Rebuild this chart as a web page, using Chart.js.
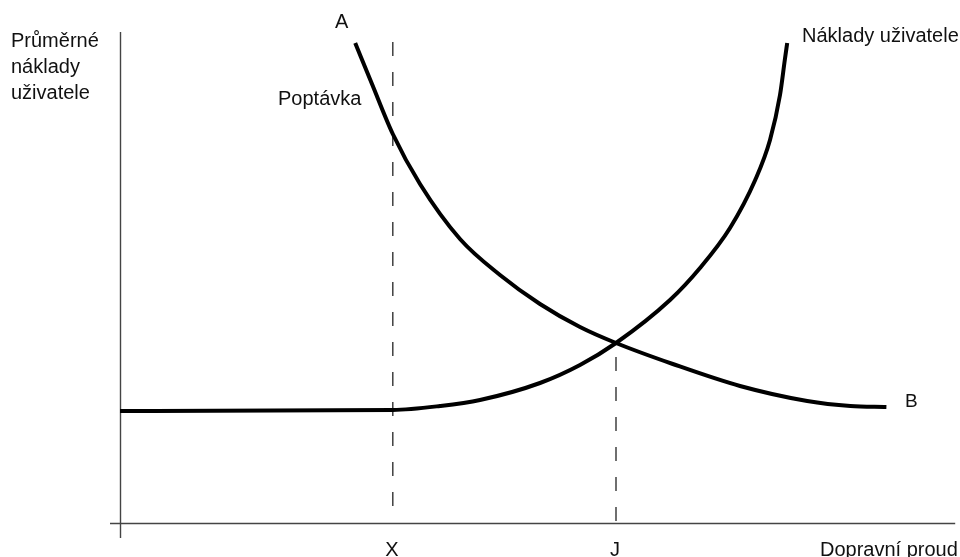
<!DOCTYPE html>
<html>
<head>
<meta charset="utf-8">
<script src="https://cdn.jsdelivr.net/npm/chart.js@4.4.0/dist/chart.umd.min.js"></script>
<style>
  html, body { margin: 0; padding: 0; background: #fff; }
  canvas { display: block; }
</style>
</head>
<body>
<canvas id="c" width="960" height="557"></canvas>
<script>
// Data (units: flow on x, average user cost on y)
const demandX = [29.4, 31.5, 34.1, 37.5, 42.5, 47.5, 52.5, 57.5, 62, 69.1, 77.5, 85.9, 91.3, 95.8];
const demandY = [96, 87.8, 77.8, 67.8, 56.8, 49.6, 43.8, 39.2, 36, 31.8, 27.4, 24.4, 23.4, 23.2];
const costX = [0, 34.1, 40, 45, 52.5, 57.5, 62, 68.75, 72.5, 76.25, 79.4, 81.25, 82.5, 83.1, 83.4];
const costY = [22.4, 22.6, 23.4, 24.6, 28, 31.6, 36, 44.6, 51, 59, 68.6, 76.6, 85.6, 92.6, 96];
const tickLabels = ['X', 'J'];
const tickValues = [34.1, 62];
const dashTops = [96.2, 33.2];
const dashBottoms = [2.8, 0];
const yAxisTitle = ['Průměrné', 'náklady', 'uživatele'];
const xAxisTitle = 'Dopravní proud';
const demandName = 'Poptávka';
const costName = 'Náklady uživatele';
const demandStart = 'A';
const demandEnd = 'B';

const pts = (xs, ys) => xs.map((x, i) => ({ x: x, y: ys[i] }));

const datasets = [
  {
    label: demandName, data: pts(demandX, demandY), showLine: true,
    borderColor: '#000', borderWidth: 4, pointRadius: 0,
    cubicInterpolationMode: 'monotone', borderCapStyle: 'butt'
  },
  {
    label: costName, data: pts(costX, costY), showLine: true,
    borderColor: '#000', borderWidth: 4, pointRadius: 0,
    cubicInterpolationMode: 'monotone', borderCapStyle: 'butt'
  }
];
tickValues.forEach((v, i) => {
  datasets.push({
    label: 'dash ' + tickLabels[i],
    data: [{ x: v, y: dashTops[i] }, { x: v, y: dashBottoms[i] }],
    showLine: true, borderColor: '#333', borderWidth: 1.4, pointRadius: 0,
    borderDash: [14, 16]
  });
});

const FONT = '"Liberation Sans", Arial, sans-serif';

const drawPlugin = {
  id: 'drawExtras',
  beforeDatasetsDraw(chart) {
    const ctx = chart.ctx;
    const xs = chart.scales.x, ys = chart.scales.y;
    ctx.save();
    ctx.strokeStyle = '#444';
    ctx.lineWidth = 1.4;
    const x0 = Math.round(xs.getPixelForValue(0)) + 0.5;
    ctx.beginPath();
    ctx.moveTo(x0, ys.getPixelForValue(98.2));
    ctx.lineTo(x0, ys.getPixelForValue(-3));
    ctx.stroke();
    const y0 = Math.round(ys.getPixelForValue(0)) + 0.5;
    ctx.beginPath();
    ctx.moveTo(xs.getPixelForValue(-1.25), y0);
    ctx.lineTo(xs.getPixelForValue(104.4), y0);
    ctx.stroke();
    ctx.restore();
  },
  afterDraw(chart) {
    const ctx = chart.ctx;
    const xs = chart.scales.x;
    ctx.save();
    ctx.fillStyle = '#111';
    ctx.textBaseline = 'alphabetic';
    ctx.font = '20px ' + FONT;
    ctx.textAlign = 'left';
    yAxisTitle.forEach((t, i) => ctx.fillText(t, 11, 47 + i * 26));
    ctx.fillText(demandStart, 335, 28);
    ctx.fillText(demandName, 278, 105);
    ctx.fillText(costName, 802, 42);
    ctx.fillText(xAxisTitle, 820, 556);
    ctx.textAlign = 'center';
    tickLabels.forEach((t, i) => ctx.fillText(t, xs.getPixelForValue(tickValues[i]) - 1, 556));
    ctx.textAlign = 'left';
    ctx.font = '19px ' + FONT;
    ctx.fillText(demandEnd, 905, 407);
    ctx.restore();
  }
};

new Chart(document.getElementById('c'), {
  type: 'scatter',
  data: { datasets: datasets },
  options: {
    responsive: false,
    animation: false,
    devicePixelRatio: 1,
    layout: { padding: 0 },
    plugins: { legend: { display: false }, tooltip: { enabled: false } },
    scales: {
      x: { type: 'linear', min: -15, max: 105, display: false },
      y: { type: 'linear', min: -6.8, max: 104.6, display: false }
    }
  },
  plugins: [drawPlugin]
});
</script>
</body>
</html>
